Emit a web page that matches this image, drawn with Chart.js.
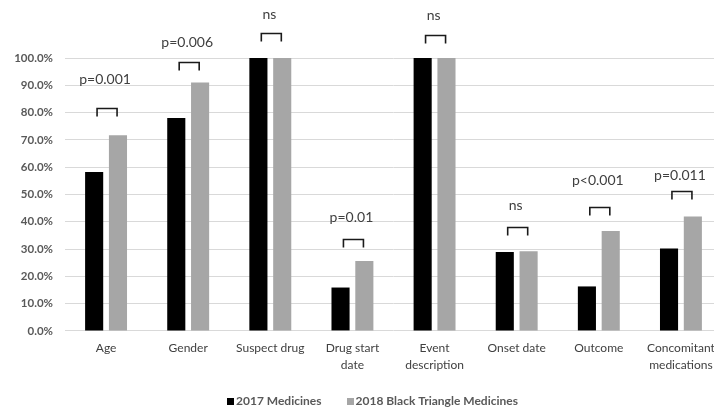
<!DOCTYPE html>
<html>
<head>
<meta charset="utf-8">
<script src="https://cdn.jsdelivr.net/npm/chart.js@4/dist/chart.umd.min.js"></script>
<style>
  html, body { margin: 0; padding: 0; background: #fff; overflow: hidden; width: 714px; height: 412px; }
  #wrap { width: 730px; height: 412px; }
</style>
</head>
<body>
<div id="wrap"><canvas id="c" width="730" height="412"></canvas></div>
<script>
// Share of reports containing each data field (%)
const categories = [
  ['Age'], ['Gender'], ['Suspect drug'], ['Drug start', 'date'],
  ['Event', 'description'], ['Onset date'], ['Outcome'], ['Concomitant', 'medications']
];
const seriesNames = ['2017 Medicines', '2018 Black Triangle Medicines'];
const values2017 = [58.2, 78.0, 100, 15.9, 100, 28.9, 16.3, 30.2];
const values2018 = [71.7, 91.0, 100, 25.6, 100, 29.2, 36.6, 41.9];
const significance = ['p=0.001', 'p=0.006', 'ns', 'p=0.01', 'ns', 'ns', 'p<0.001', 'p=0.011'];
const yMin = 0, yMax = 100, yStep = 10;

const FONT = 'Lato, "Open Sans", sans-serif';
const barColors = ['#000000', '#a6a6a6'];

// Brackets and p-value labels above each pair of bars
const significancePlugin = {
  id: 'significance',
  afterDatasetsDraw(chart, args, opts) {
    const { ctx, scales: { x, y } } = chart;
    ctx.save();
    categories.forEach((_, i) => {
      const cx = x.getPixelForValue(i) + opts.shift;
      const top = Math.min(y.getPixelForValue(values2017[i]), y.getPixelForValue(values2018[i]));
      const by = Math.round(top - opts.bracketLift[i]) + 0.5;
      ctx.strokeStyle = '#1a1a1a';
      ctx.lineWidth = 1.6;
      ctx.beginPath();
      ctx.moveTo(cx - opts.half, by + opts.tick);
      ctx.lineTo(cx - opts.half, by);
      ctx.lineTo(cx + opts.half, by);
      ctx.lineTo(cx + opts.half, by + opts.tick);
      ctx.stroke();
      ctx.fillStyle = '#404040';
      ctx.font = '14px ' + FONT;
      ctx.textAlign = 'center';
      ctx.textBaseline = 'middle';
      ctx.fillText(significance[i], x.getPixelForValue(i) - 1, by - opts.labelLift[i]);
    });
    ctx.restore();
  }
};

// Compact legend centred under the plot
const legendPlugin = {
  id: 'bottomLegend',
  afterDraw(chart, args, opts) {
    const { ctx } = chart;
    ctx.save();
    ctx.font = 'bold 12px ' + FONT;
    ctx.textBaseline = 'middle';
    ctx.textAlign = 'left';
    const items = chart.data.datasets.map(d => ({ text: d.label, color: d.backgroundColor, w: ctx.measureText(d.label).width }));
    const total = items.reduce((s, it) => s + opts.box + opts.gap + it.w, 0) + opts.spacing * (items.length - 1);
    let xPos = opts.centerX - total / 2;
    items.forEach(it => {
      ctx.fillStyle = it.color;
      ctx.fillRect(Math.round(xPos), Math.round(opts.y - opts.box / 2), opts.box, opts.box);
      xPos += opts.box + opts.gap;
      ctx.fillStyle = '#595959';
      ctx.fillText(it.text, xPos, opts.y);
      xPos += it.w + opts.spacing;
    });
    ctx.restore();
  }
};

new Chart(document.getElementById('c'), {
  type: 'bar',
  data: {
    labels: categories,
    datasets: [
      { label: seriesNames[0], data: values2017, backgroundColor: barColors[0] },
      { label: seriesNames[1], data: values2018, backgroundColor: barColors[1] }
    ]
  },
  options: {
    responsive: false,
    devicePixelRatio: 1,
    animation: false,
    layout: { padding: { left: 9, right: 8, top: 58, bottom: 29 } },
    datasets: { bar: { categoryPercentage: 0.58, barPercentage: 0.76 } },
    plugins: {
      legend: { display: false },
      tooltip: { enabled: false },
      significance: {
        shift: 1, half: 10, tick: 8,
        bracketLift: [27, 21, 25, 22, 23, 24, 24, 26],
        labelLift: [29, 20, 19, 22, 20, 22, 27, 16]
      },
      bottomLegend: { centerX: 372.5, y: 401.5, box: 7, gap: 2, spacing: 25 }
    },
    scales: {
      x: {
        grid: { display: false, drawTicks: false },
        border: { display: false },
        ticks: { color: '#404040', font: { family: FONT, size: 12, lineHeight: 1.42 }, padding: 9, maxRotation: 0, autoSkip: false }
      },
      y: {
        min: yMin, max: yMax,
        afterFit: s => { s.width = 56; },
        grid: { color: '#d9d9d9', lineWidth: 1, drawTicks: false },
        border: { display: false },
        ticks: {
          stepSize: yStep, padding: 12, color: '#595959',
          font: { family: FONT, size: 11.5, weight: 'bold' },
          callback: v => v.toFixed(1) + '%'
        }
      }
    }
  },
  plugins: [significancePlugin, legendPlugin]
});
</script>
</body>
</html>
